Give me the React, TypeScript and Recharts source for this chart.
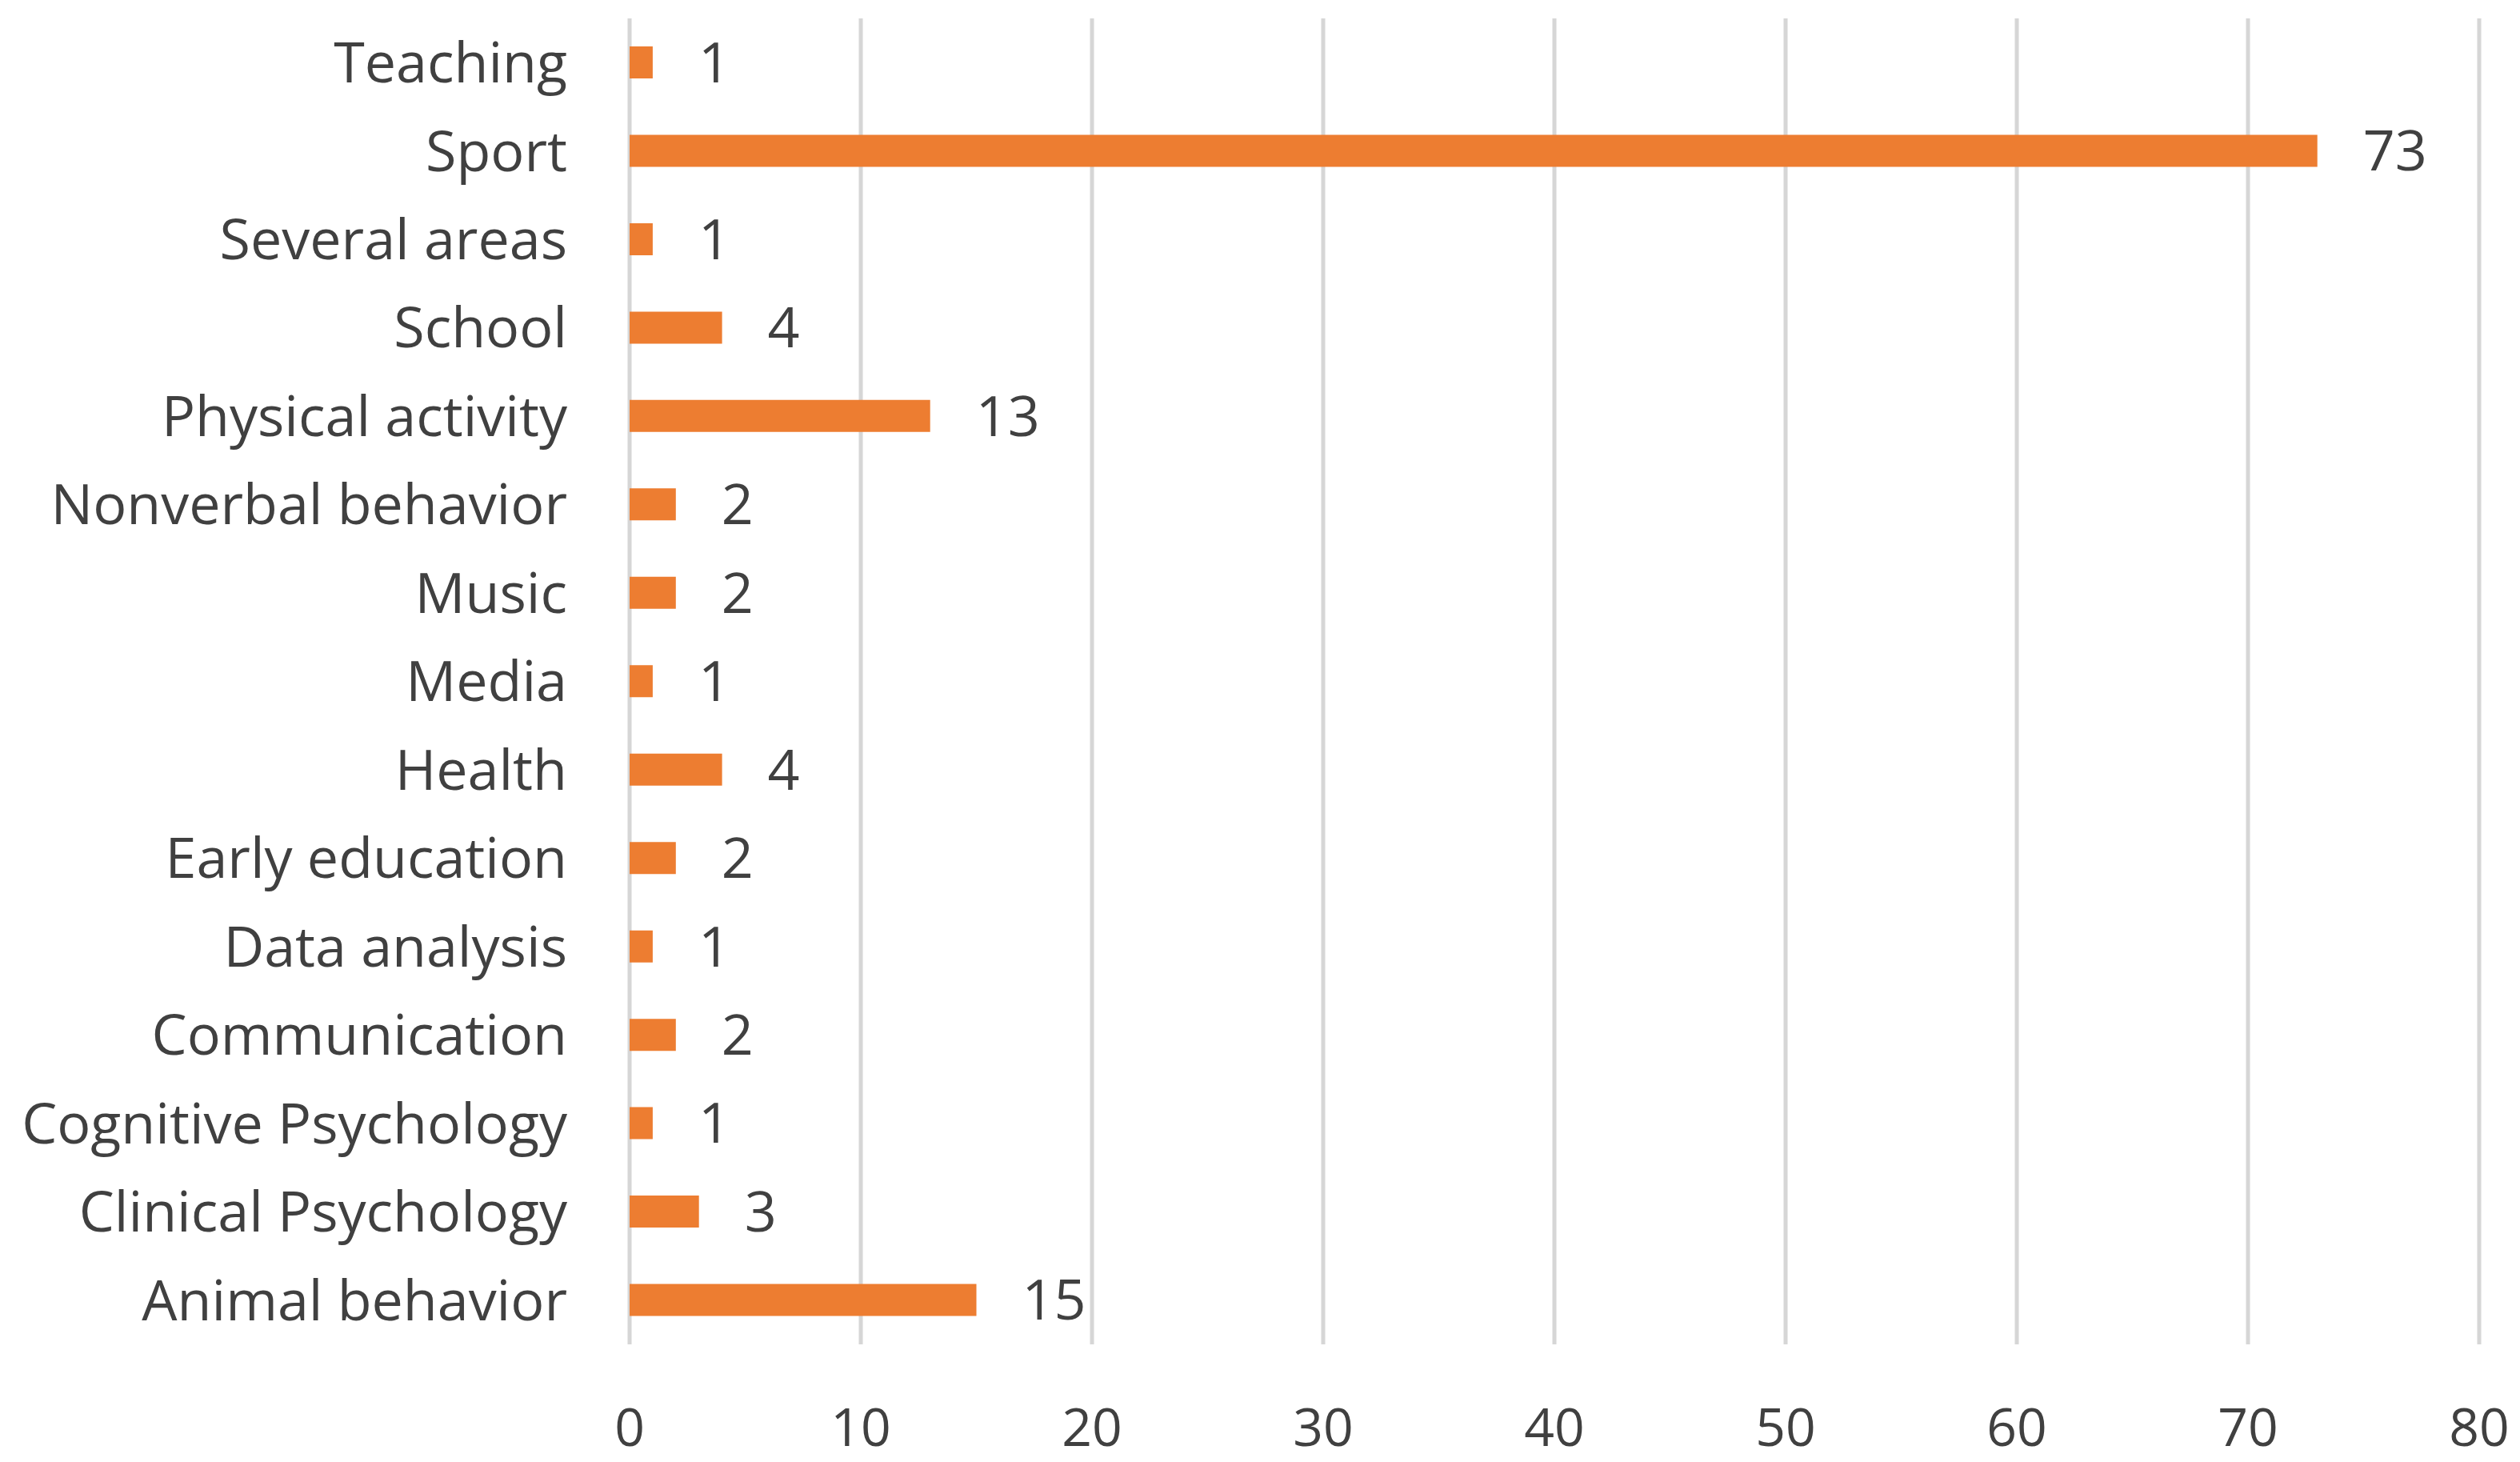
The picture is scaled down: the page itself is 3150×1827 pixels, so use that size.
import React from "react";
import {
  BarChart,
  Bar,
  XAxis,
  YAxis,
  CartesianGrid,
  LabelList,
} from "recharts";

const areas = [
  "Teaching",
  "Sport",
  "Several areas",
  "School",
  "Physical activity",
  "Nonverbal behavior",
  "Music",
  "Media",
  "Health",
  "Early education",
  "Data analysis",
  "Communication",
  "Cognitive Psychology",
  "Clinical Psychology",
  "Animal behavior",
];

const counts = [1, 73, 1, 4, 13, 2, 2, 1, 4, 2, 1, 2, 1, 3, 15];

const xTicks = [0, 10, 20, 30, 40, 50, 60, 70, 80];

const data = areas.map((area, i) => ({ area, count: counts[i] }));

const textColor = "#404040";
const font = "'Open Sans', sans-serif";

function App() {
  return (
    <div style={{ position: "absolute", left: 0, top: 0, background: "#fff" }}>
      <BarChart
        width={3150}
        height={1827}
        data={data}
        layout="vertical"
        margin={{ top: 23, right: 51, left: 0, bottom: 0 }}
        barCategoryGap={0}
      >
        <CartesianGrid
          horizontal={false}
          vertical={true}
          stroke="#d6d6d6"
          strokeWidth={5}
        />
        <XAxis
          type="number"
          domain={[0, 80]}
          ticks={xTicks}
          height={147}
          axisLine={false}
          tickLine={false}
          tickSize={0}
          tickMargin={80}
          tick={{ fill: textColor, fontSize: 66, fontFamily: font }}
          interval={0}
        />
        <YAxis
          type="category"
          dataKey="area"
          width={787}
          axisLine={false}
          tickLine={false}
          tickSize={0}
          tickMargin={78}
          tick={{ fill: textColor, fontSize: 70, fontFamily: font }}
          interval={0}
        />
        <Bar
          dataKey="count"
          fill="#ED7D31"
          barSize={40}
          isAnimationActive={false}
        >
          <LabelList
            dataKey="count"
            position="right"
            offset={57}
            fill={textColor}
            fontSize={70}
            fontFamily={font}
          />
        </Bar>
      </BarChart>
    </div>
  );
}

export default App;
